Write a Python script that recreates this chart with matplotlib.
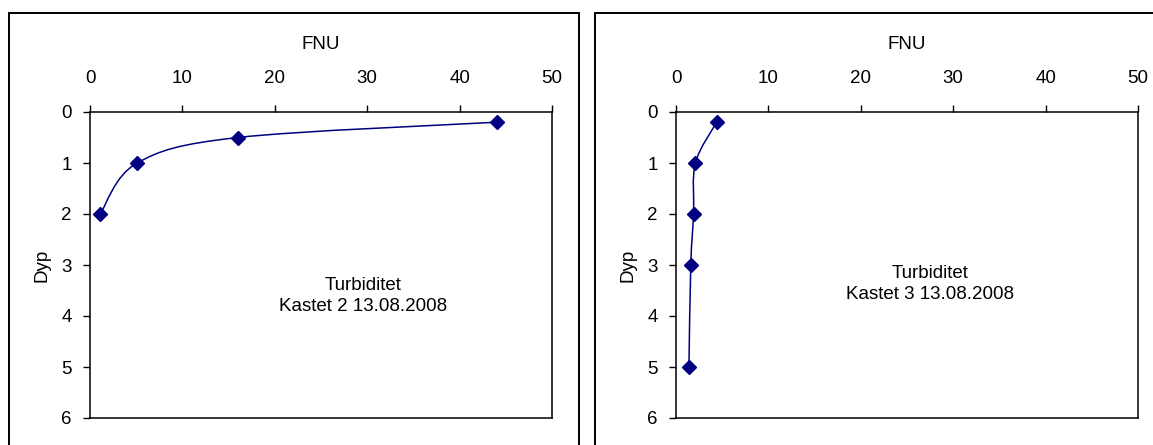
import matplotlib
matplotlib.use("Agg")
import matplotlib.pyplot as plt
from matplotlib.path import Path
from matplotlib.patches import PathPatch, Rectangle

plt.rcParams['font.family'] = ['Liberation Sans', 'DejaVu Sans']

# Data
fnu_k2 = [44.0, 16.0, 5.1, 1.1]
dyp_k2 = [0.2, 0.5, 1.0, 2.0]
fnu_k3 = [4.4, 2.1, 1.9, 1.6, 1.4]
dyp_k3 = [0.2, 1.0, 2.0, 3.0, 5.0]
x_ticks = [0, 10, 20, 30, 40, 50]
y_ticks = [0, 1, 2, 3, 4, 5, 6]
titles = ["Turbiditet\nKastet 2 13.08.2008", "Turbiditet\nKastet 3 13.08.2008"]

LINE = "#000080"
FS = 13.5


def smooth_path(xs, ys):
    # Bezier smoothing like a spreadsheet "smoothed line"
    pts = list(zip(xs, ys))
    verts = [pts[0]]
    codes = [Path.MOVETO]
    n = len(pts)
    for i in range(n - 1):
        p0 = pts[i - 1] if i > 0 else pts[i]
        p1 = pts[i]
        p2 = pts[i + 1]
        p3 = pts[i + 2] if i + 2 < n else pts[i + 1]
        c1 = (p1[0] + (p2[0] - p0[0]) / 6, p1[1] + (p2[1] - p0[1]) / 6)
        c2 = (p2[0] - (p3[0] - p1[0]) / 6, p2[1] - (p3[1] - p1[1]) / 6)
        verts += [c1, c2, p2]
        codes += [Path.CURVE4] * 3
    return Path(verts, codes)


fig = plt.figure(figsize=(11.53, 4.45), dpi=100)

# outer chart frames (run off the right / bottom edge like the source)
for x0, w in [(9, 570), (595, 600)]:
    fig.patches.append(Rectangle((x0 / 1153, -0.1), w / 1153, 1.1 - 13 / 445,
                                 transform=fig.transFigure, fill=False,
                                 edgecolor='black', linewidth=1.4))

axes_left = [90, 676]
series = [(fnu_k2, dyp_k2), (fnu_k3, dyp_k3)]
text_pos = [(29.5, 3.61), (27.5, 3.37)]

for left, (xs, ys), title, (tx, ty) in zip(axes_left, series, titles, text_pos):
    ax = fig.add_axes([left / 1153, 27 / 445, 462 / 1153, 306 / 445])
    ax.set_xlim(0, 50)
    ax.set_ylim(6, 0)
    ax.xaxis.tick_top()
    ax.xaxis.set_label_position('top')
    ax.set_xticks(x_ticks)
    ax.set_yticks(y_ticks)
    ax.tick_params(axis='x', direction='out', length=5, width=1, pad=13, labelsize=FS)
    ax.tick_params(axis='y', direction='out', length=5, width=1, pad=8, labelsize=FS)
    for s in ax.spines.values():
        s.set_linewidth(1.1)
    ax.set_xlabel("FNU", fontsize=FS, labelpad=15)
    ax.set_ylabel("Dyp", fontsize=FS, labelpad=8)

    ax.add_patch(PathPatch(smooth_path(xs, ys), facecolor='none',
                           edgecolor=LINE, linewidth=1.1))
    ax.plot(xs, ys, linestyle='none', marker='D', markersize=7,
            color=LINE, clip_on=False)
    ax.text(tx, ty, title, ha='center', va='center', fontsize=FS,
            linespacing=1.35)

fig.savefig("out.png", dpi=100, facecolor='white')
